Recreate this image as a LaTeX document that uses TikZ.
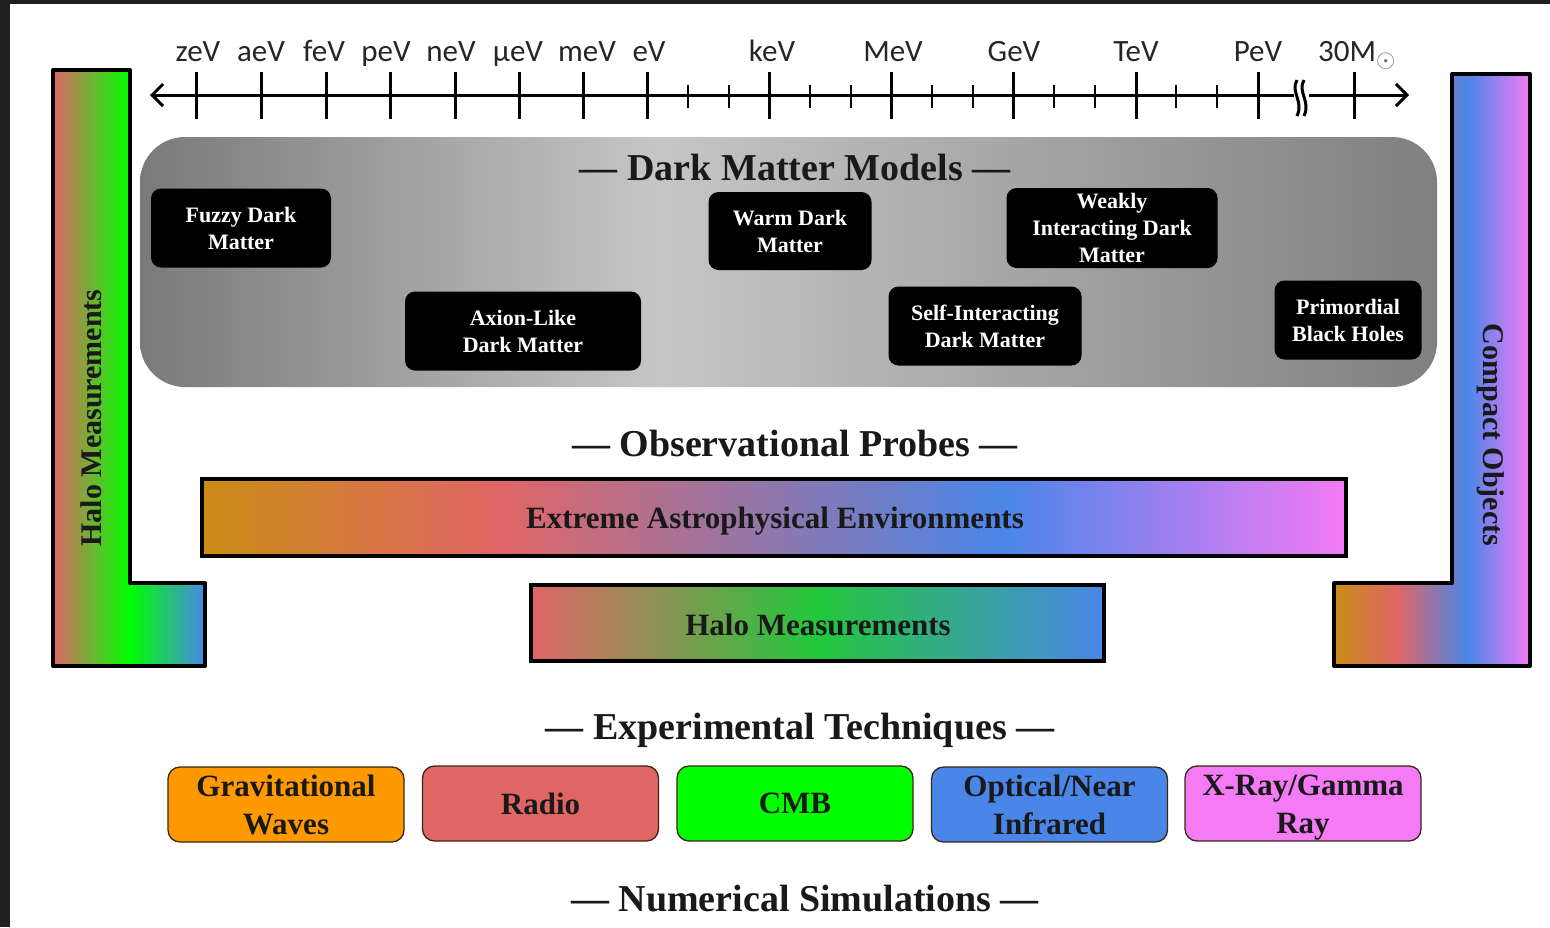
\documentclass[tikz,border=0pt]{standalone}
\usepackage{fontspec}
\setmainfont{Liberation Serif}
\newfontfamily\axfont{Carlito}
\usetikzlibrary{arrows.meta}
\definecolor{frame}{HTML}{202020}
\definecolor{redc}{HTML}{E06666}
\definecolor{greenc}{HTML}{00FF00}
\definecolor{bluec}{HTML}{4A86E8}
\definecolor{magc}{HTML}{F57AF5}
\definecolor{goldc}{HTML}{C98C14}
\definecolor{orangec}{HTML}{FF9900}
\definecolor{midgreen}{HTML}{22C83C}
\definecolor{grayd}{RGB}{122,122,122}
\definecolor{grayl}{RGB}{198,198,198}
\definecolor{grayr}{RGB}{128,128,128}
\pgfdeclarehorizontalshading{leftLsh}{100bp}{color(0bp)=(redc); color(25bp)=(redc); color(50bp)=(greenc); color(75bp)=(bluec); color(100bp)=(bluec)}
\pgfdeclarehorizontalshading{rightLsh}{100bp}{color(0bp)=(goldc); color(25bp)=(goldc); color(41bp)=(redc); color(59bp)=(bluec); color(75bp)=(magc); color(100bp)=(magc)}
\pgfdeclarehorizontalshading{extremesh}{100bp}{color(0bp)=(goldc); color(25bp)=(goldc); color(38bp)=(redc); color(60bp)=(bluec); color(75bp)=(magc); color(100bp)=(magc)}
\pgfdeclarehorizontalshading{halosh}{100bp}{color(0bp)=(redc); color(25bp)=(redc); color(50bp)=(midgreen); color(75bp)=(bluec); color(100bp)=(bluec)}
\pgfdeclarehorizontalshading{panelsh}{100bp}{color(0bp)=(grayd); color(25bp)=(grayd); color(45bp)=(grayl); color(75bp)=(grayr); color(100bp)=(grayr)}
\tikzset{
  axlabel/.style={font=\axfont\fontsize{31}{31}\selectfont, text=black!85, anchor=base, inner sep=0pt},
  majortick/.style={line width=3pt, black},
  minortick/.style={line width=2.6pt, black},
  section/.style={font=\fontsize{38}{42}\selectfont\bfseries, text=black!90, inner sep=0pt},
  dmbox/.style={fill=black, rounded corners=10pt, text=white, align=center, inner sep=0pt,
    font=\fontsize{22}{27}\selectfont\bfseries},
  probebar/.style={draw=black, line width=3.5pt, inner sep=0pt},
  probetext/.style={font=\fontsize{31}{35}\selectfont\bfseries, text=black!90, inner sep=0pt},
  techbox/.style={draw=black!70!brown, line width=1.3pt, rounded corners=12pt, align=center,
    inner sep=0pt, minimum width=236pt, minimum height=75pt,
    font=\fontsize{31}{38}\selectfont\bfseries, text=black!90},
  sidetext/.style={font=\fontsize{30}{34}\selectfont\bfseries, text=black!90, inner sep=0pt}
}
\begin{document}
\begin{tikzpicture}[x=1pt,y=-1pt]
\useasboundingbox (0,0) rectangle (1550,927);
\fill[white] (0,0) rectangle (1550,927);
% dark frame
\fill[frame] (0,0) rectangle (10,927);
\fill[frame] (0,0) rectangle (1550,4);

% energy axis
\coordinate (axL) at (150,95);
\coordinate (axR) at (1409,95);
\draw[line width=3pt, {Straight Barb[length=11pt,width=22pt]}-{Straight Barb[length=11pt,width=22pt]}] (axL) -- (axR);
\foreach \x in {196,261,326,390,455,519,583,647,769,891,1013,1136,1258,1354}
  \draw[majortick] (\x,72) -- (\x,119);
\foreach \x in {688,729,810,851,932,973,1054,1095,1176,1217}
  \draw[minortick] (\x,85) -- (\x,108);
% axis break
\fill[white] (1294,80) rectangle (1309,112);
\draw[line width=3pt] (1297,80) .. controls (1290,92) and (1304,101) .. (1297,116);
\draw[line width=3pt] (1304,80) .. controls (1297,92) and (1311,101) .. (1304,116);

\node[axlabel] (lz) at (198,61) {zeV};
\node[axlabel] (la) at (261,61) {aeV};
\node[axlabel] (lf) at (324,61) {feV};
\node[axlabel] (lp) at (386,61) {peV};
\node[axlabel] (ln) at (451,61) {neV};
\node[axlabel] (lmu) at (518,61) {µeV};
\node[axlabel] (lm) at (587,61) {meV};
\node[axlabel] (le) at (649,61) {eV};
\node[axlabel] (lk) at (772,61) {keV};
\node[axlabel] (lM) at (893,61) {MeV};
\node[axlabel] (lG) at (1014,61) {GeV};
\node[axlabel] (lT) at (1136,61) {TeV};
\node[axlabel] (lP) at (1258,61) {PeV};
\node[axlabel, anchor=base west] (l30) at (1318,61) {30M\raisebox{-6pt}{\textcolor{black!55}{\fontsize{28}{28}\selectfont$\odot$}}};

% left L shape (halo measurements)
\path[shading=leftLsh] (53,70) -- (130,70) -- (130,583) -- (205,583) -- (205,666) -- (53,666) -- cycle;
\draw[line width=4pt, line join=round] (53,70) -- (130,70) -- (130,583) -- (205,583) -- (205,666) -- (53,666) -- cycle;
\node[sidetext, rotate=90] (haloside) at (91,418) {Halo Measurements};

% right L shape (compact objects)
\path[shading=rightLsh] (1452,74) -- (1530,74) -- (1530,666) -- (1334,666) -- (1334,583) -- (1452,583) -- cycle;
\draw[line width=4pt, line join=round] (1452,74) -- (1530,74) -- (1530,666) -- (1334,666) -- (1334,583) -- (1452,583) -- cycle;
\node[sidetext, rotate=-90] (compactside) at (1491,435) {Compact Objects};

% dark matter models panel
\path[shading=panelsh, rounded corners=45pt] (140,137) rectangle (1437,387);
\node[section] (dmtitle) at (795,167) {— Dark Matter Models —};
\node[dmbox, minimum width=180pt, minimum height=79pt] (fuzzy) at (241,228) {Fuzzy Dark\\Matter};
\node[dmbox, minimum width=236pt, minimum height=79pt] (axion) at (523,331) {Axion-Like\\Dark Matter};
\node[dmbox, minimum width=163pt, minimum height=78pt] (warm) at (790,231) {Warm Dark\\Matter};
\node[dmbox, minimum width=211pt, minimum height=80pt] (wimp) at (1112,228) {Weakly\\Interacting Dark\\Matter};
\node[dmbox, minimum width=193pt, minimum height=79pt] (sidm) at (985,326) {Self-Interacting\\Dark Matter};
\node[dmbox, minimum width=147pt, minimum height=79pt] (pbh) at (1348,320) {Primordial\\Black Holes};

% observational probes
\node[section] (obstitle) at (795,443) {— Observational Probes —};
\path[shading=extremesh] (202,479) rectangle (1346,556);
\node[probebar, minimum width=1144pt, minimum height=77pt] (extreme) at (774,517.5) {};
\node[probetext] (extremetext) at (775,521) {Extreme Astrophysical Environments};
\path[shading=halosh] (531,585) rectangle (1104,661);
\node[probebar, minimum width=573pt, minimum height=76pt] (halo) at (817.5,623) {};
\node[probetext] (halotext) at (818,625) {Halo Measurements};

% experimental techniques
\node[section] (exptitle) at (800,730) {— Experimental Techniques —};
\node[techbox, fill=orangec] (gw) at (286,804.5) {Gravitational\\Waves};
\node[techbox, fill=redc] (radio) at (540.5,803.5) {Radio};
\node[techbox, fill=greenc] (cmb) at (795,803.5) {CMB};
\node[techbox, fill=bluec] (opt) at (1049.5,804.5) {Optical/Near\\Infrared};
\node[techbox, fill=magc] (xray) at (1303,803.5) {};
\node[font=\fontsize{31}{38}\selectfont\bfseries, text=black!90, align=center, inner sep=0pt] (xraytext) at (1303,808) {X-Ray/Gamma\\Ray};

% numerical simulations
\node[section] (numtitle) at (805,899) {— Numerical Simulations —};
\end{tikzpicture}
\end{document}
